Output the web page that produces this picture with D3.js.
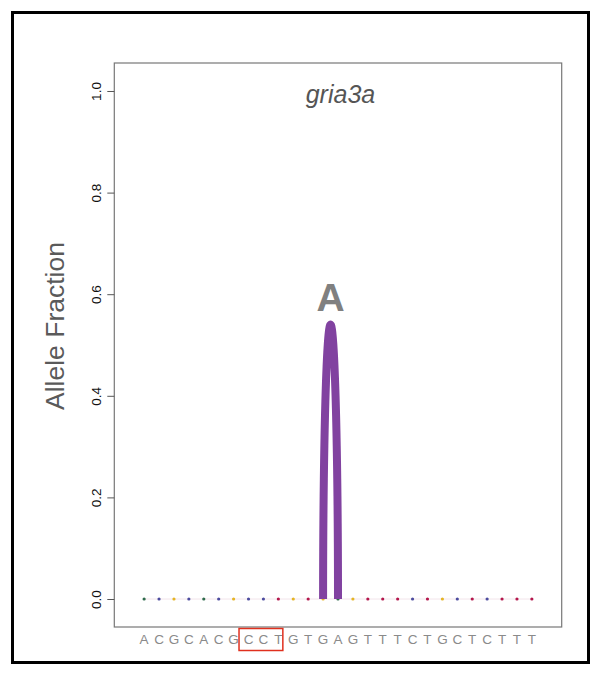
<!DOCTYPE html>
<html>
<head>
<meta charset="utf-8">
<script src="https://cdn.jsdelivr.net/npm/d3@7/dist/d3.min.js"></script>
<style>
  html, body { margin: 0; padding: 0; background: #fff; }
  svg { display: block; }
  text { font-family: "Liberation Sans", Arial, sans-serif; }
</style>
</head>
<body>
<svg id="chart" width="601" height="676"></svg>
<script>
// ---- data ----
const title = "gria3a";
const yLabel = "Allele Fraction";
const bases = ["A","C","G","C","A","C","G","C","C","T","G","T","G","A","G","T","T","T","C","T","G","C","T","C","T","T","T"];
const positions = d3.range(1, bases.length + 1);
const baselineValues = positions.map(() => 0);
const baseColors = { A: "#2f6b4c", C: "#4b4b9e", G: "#e5b425", T: "#b3164c" };
const arcFrom = [13];
const arcTo = [14];
const arcValue = [0.54];
const arcLabel = ["A"];
const yTicks = [0, 0.2, 0.4, 0.6, 0.8, 1.0];
const highlightFrom = 8;
const highlightTo = 10;

// ---- layout ----
const svg = d3.select("#chart");
const box = { left: 114.3, right: 561.7, top: 63, bottom: 627 };

const x = d3.scaleLinear().domain([-1, 29]).range([box.left, box.right]);
const y = d3.scaleLinear().domain([-0.0551, 1.0551]).range([box.bottom, box.top]);

// outer frame
svg.append("rect")
  .attr("x", 12.5).attr("y", 12.5)
  .attr("width", 576).attr("height", 650)
  .attr("fill", "none").attr("stroke", "#000").attr("stroke-width", 3);

// plot box
svg.append("rect")
  .attr("x", box.left).attr("y", box.top)
  .attr("width", box.right - box.left).attr("height", box.bottom - box.top)
  .attr("fill", "none").attr("stroke", "#777").attr("stroke-width", 1.2);

// y axis
const yAxis = d3.axisLeft(y).tickValues(yTicks).tickSize(7).tickFormat(d3.format(".1f"));
const gy = svg.append("g").attr("transform", `translate(${box.left},0)`).call(yAxis);
gy.select(".domain").remove();
gy.selectAll(".tick line").attr("stroke", "#555");
gy.selectAll(".tick text")
  .attr("x", null).attr("dy", null)
  .attr("transform", "translate(-13.5,0) rotate(-90)")
  .attr("text-anchor", "middle")
  .attr("font-size", 13.5)
  .attr("fill", "#111")
  .style("font-family", "'Liberation Sans', Arial, sans-serif");

// y label
svg.append("text")
  .attr("transform", `translate(63.5,326) rotate(-90)`)
  .attr("text-anchor", "middle")
  .attr("font-size", 26.5)
  .attr("fill", "#5a5a5a")
  .text(yLabel);

// title
svg.append("text")
  .attr("x", x(14.5) - 5).attr("y", 103)
  .attr("text-anchor", "middle")
  .attr("font-size", 25)
  .attr("font-style", "italic")
  .attr("fill", "#555")
  .text(title);

// faint baseline connecting dots
svg.append("line")
  .attr("x1", x(positions[0])).attr("x2", x(positions[positions.length - 1]))
  .attr("y1", y(0)).attr("y2", y(0))
  .attr("stroke", "#f2e4ea").attr("stroke-width", 1);

// dots
svg.append("g").selectAll("circle")
  .data(positions)
  .join("circle")
  .attr("cx", d => x(d))
  .attr("cy", (d, i) => y(baselineValues[i]))
  .attr("r", 1.6)
  .attr("fill", (d, i) => baseColors[bases[i]]);

// arcs (half ellipse)
arcFrom.forEach((f, i) => {
  const t = arcTo[i];
  const cx = (x(f) + x(t)) / 2;
  const a = (x(t) - x(f)) / 2;
  const b = y(0) - y(arcValue[i]);
  const pts = d3.range(0, 181, 2).map(deg => {
    const r = deg * Math.PI / 180;
    return [cx - a * Math.cos(r), y(0) - b * Math.sin(r)];
  });
  svg.append("path")
    .attr("d", d3.line()(pts))
    .attr("fill", "none")
    .attr("stroke", "#8142a0")
    .attr("stroke-width", 8)
    .attr("stroke-linecap", "butt")
    .attr("stroke-linejoin", "round");
  svg.append("text")
    .attr("x", cx).attr("y", y(arcValue[i]) - 14)
    .attr("text-anchor", "middle")
    .attr("font-size", 39)
    .attr("font-weight", "bold")
    .attr("fill", "#808080")
    .text(arcLabel[i]);
});

// x base labels
svg.append("g").selectAll("text")
  .data(positions)
  .join("text")
  .attr("x", d => x(d))
  .attr("y", 644)
  .attr("text-anchor", "middle")
  .attr("font-size", 13.5)
  .attr("fill", "#8a8a8a")
  .text((d, i) => bases[i]);

// highlight box
svg.append("rect")
  .attr("x", x(highlightFrom) - 9.5)
  .attr("y", 628.5)
  .attr("width", x(highlightTo) - x(highlightFrom) + 14)
  .attr("height", 22)
  .attr("fill", "none")
  .attr("stroke", "#e0301e")
  .attr("stroke-width", 1.5);
</script>
</body>
</html>
